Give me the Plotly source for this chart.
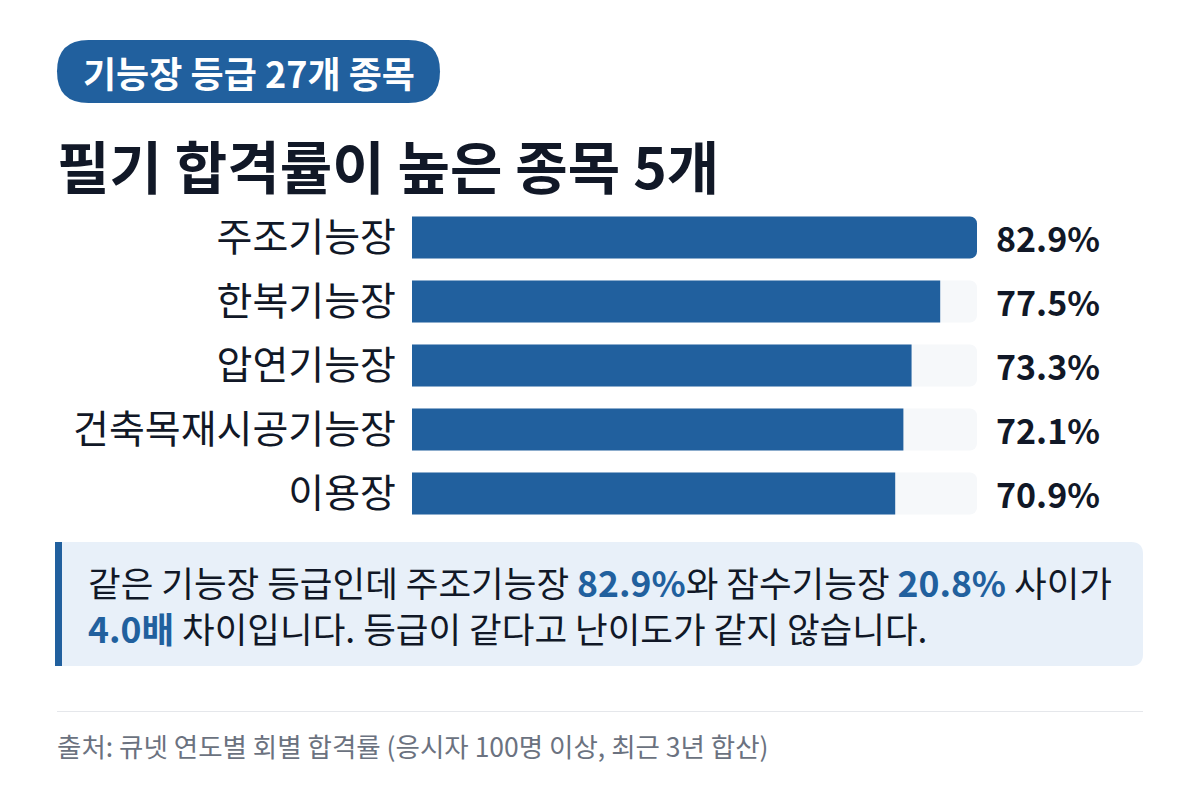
import plotly.graph_objects as go

# ---- data ----
categories = ["주조기능장", "한복기능장", "압연기능장", "건축목재시공기능장", "이용장"]
pass_rates = [82.9, 77.5, 73.3, 72.1, 70.9]
value_labels = ["82.9%", "77.5%", "73.3%", "72.1%", "70.9%"]

badge_text = "기능장 등급 27개 종목"
title_text = "필기 합격률이 높은 종목 5개"
source_text = "출처: 큐넷 연도별 회별 합격률 (응시자 100명 이상, 최근 3년 합산)"

# ---- style ----
OFF = 8  # default page body margin
W, H = 1200 - OFF, 800 - OFF
FONT = "Noto Sans CJK KR"
BLUE = "#21609e"
DARK = "#111827"
TRACK = "#f6f8fa"
CALLOUT_BG = "#e8f0f9"
GRAY = "#6b7280"

def px(x):
    return (x - OFF) / W

def py(y):
    return 1 - (y - OFF) / H

def rounded_rect(x0, y0, x1, y1, r_left, r_right):
    def P(x, y):
        return f"{px(x):.5f},{py(y):.5f}"
    parts = [f"M {P(x0 + r_left, y0)}",
             f"L {P(x1 - r_right, y0)}"]
    if r_right:
        parts.append(f"Q {P(x1, y0)} {P(x1, y0 + r_right)}")
    parts.append(f"L {P(x1, y1 - r_right)}")
    if r_right:
        parts.append(f"Q {P(x1, y1)} {P(x1 - r_right, y1)}")
    parts.append(f"L {P(x0 + r_left, y1)}")
    if r_left:
        parts.append(f"Q {P(x0, y1)} {P(x0, y1 - r_left)}")
    parts.append(f"L {P(x0, y0 + r_left)}")
    if r_left:
        parts.append(f"Q {P(x0, y0)} {P(x0 + r_left, y0)}")
    parts.append("Z")
    return " ".join(parts)

xmax = max(pass_rates)

fig = go.Figure()
fig.add_trace(go.Bar(
    x=[xmax] * len(categories), y=categories, orientation="h",
    marker=dict(color=TRACK, line=dict(width=0)), hoverinfo="skip", showlegend=False,
))
fig.add_trace(go.Bar(
    x=pass_rates, y=categories, orientation="h",
    marker=dict(color=BLUE, line=dict(width=0)), showlegend=False,
))

annotations = []
for cat, lab in zip(categories, value_labels):
    annotations.append(dict(
        x=px(994), xref="paper", y=cat, yref="y", text=f"<b>{lab}</b>",
        showarrow=False, xanchor="left", yanchor="middle",
        font=dict(family=FONT, size=34, color=DARK),
    ))

annotations.append(dict(
    x=px(248.5), y=py(71.5), xref="paper", yref="paper", text=f"<b>{badge_text}</b>",
    showarrow=False, xanchor="center", yanchor="middle",
    font=dict(family=FONT, size=36, color="white"),
))
annotations.append(dict(
    x=px(55), y=py(164), xref="paper", yref="paper", text=f"<b>{title_text}</b>",
    showarrow=False, xanchor="left", yanchor="middle",
    font=dict(family=FONT, size=57, color=DARK),
))
hl = lambda s: f"<span style='color:{BLUE}'><b>{s}</b></span>"
line1 = f"같은 기능장 등급인데 주조기능장 {hl('82.9%')}와 잠수기능장 {hl('20.8%')} 사이가"
line2 = f"{hl('4.0배')} 차이입니다. 등급이 같다고 난이도가 같지 않습니다."
annotations.append(dict(
    x=px(86), y=py(604.5), xref="paper", yref="paper", text=line1 + "<br>" + line2,
    showarrow=False, xanchor="left", yanchor="middle", align="left",
    font=dict(family=FONT, size=35.5, color=DARK),
))
annotations.append(dict(
    x=px(55), y=py(745), xref="paper", yref="paper", text=source_text,
    showarrow=False, xanchor="left", yanchor="middle",
    font=dict(family=FONT, size=26.5, color=GRAY),
))

shapes = [
    dict(type="path", xref="paper", yref="paper", layer="below",
         path=rounded_rect(57, 40, 440, 103, 31.5, 31.5),
         fillcolor=BLUE, line=dict(width=0)),
    dict(type="path", xref="paper", yref="paper", layer="below",
         path=rounded_rect(55, 542, 1143, 666, 0, 12),
         fillcolor=CALLOUT_BG, line=dict(width=0)),
    dict(type="rect", xref="paper", yref="paper", layer="below",
         x0=px(55), x1=px(62), y0=py(542), y1=py(666),
         fillcolor=BLUE, line=dict(width=0)),
    dict(type="line", xref="paper", yref="paper",
         x0=px(57), x1=px(1143), y0=py(711.5), y1=py(711.5),
         line=dict(color="#e5e7eb", width=1)),
]

fig.update_layout(
    width=W, height=H,
    margin=dict(l=0, r=0, t=0, b=0),
    paper_bgcolor="white", plot_bgcolor="white",
    barmode="overlay", bargap=0.34, barcornerradius=7,
    xaxis=dict(domain=[px(412), px(977)], range=[0, xmax], visible=False, fixedrange=True),
    yaxis=dict(domain=[py(525.5), py(205.5)], range=[4.5, -0.5],
               categoryorder="array", categoryarray=categories,
               showgrid=False, zeroline=False, showline=False, ticks="",
               ticklabelstandoff=15,
               tickfont=dict(family=FONT, size=39, color=DARK), fixedrange=True),
    annotations=annotations, shapes=shapes,
    font=dict(family=FONT),
)

fig.write_html("out.html")
